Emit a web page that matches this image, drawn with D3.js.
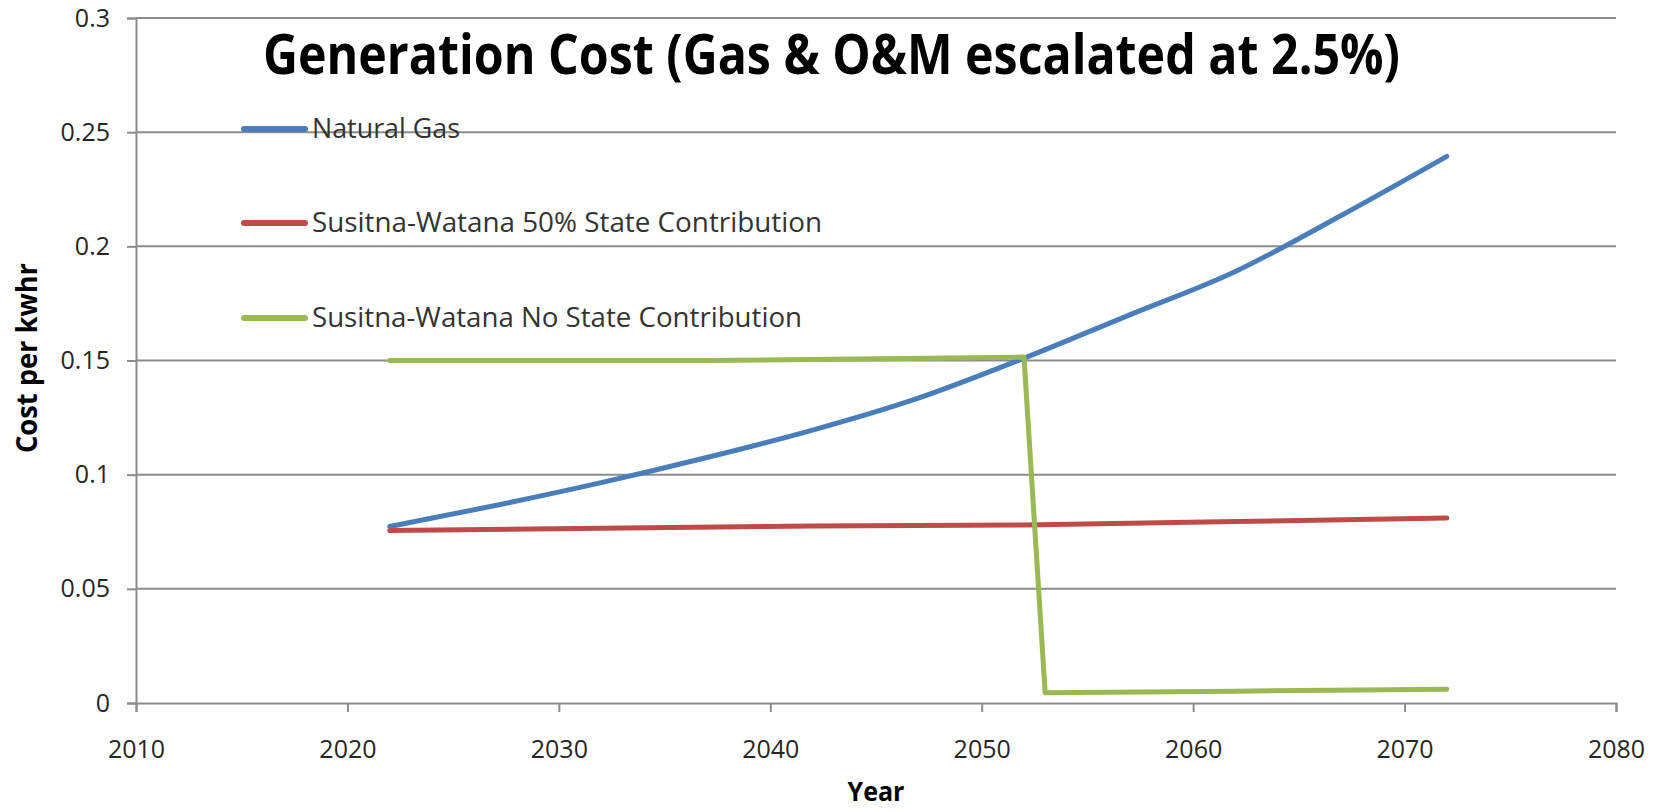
<!DOCTYPE html>
<html>
<head>
<meta charset="utf-8">
<script src="https://cdn.jsdelivr.net/npm/d3@7"></script>
<style>
  body { margin: 0; background: #fff; }
  text { font-family: "Open Sans", "DejaVu Sans", sans-serif; }
</style>
</head>
<body>
<div id="chart"></div>
<script>
let width = 1665;
let height = 811;

// series
let gasYears = [2022, 2027, 2032, 2037, 2042, 2047, 2052, 2057, 2062, 2067, 2072];
let gasCost = [0.0773, 0.0865, 0.0965, 0.1075, 0.1195, 0.1335, 0.151, 0.170, 0.189, 0.2135, 0.2394];

let halfYears = [2022, 2032, 2042, 2052, 2062, 2072];
let halfCost = [0.0755, 0.0765, 0.0775, 0.078, 0.0795, 0.081];

let noneYears = [2022, 2037, 2052, 2053, 2062, 2072];
let noneCost = [0.150, 0.150, 0.1515, 0.0045, 0.0052, 0.006];

let yTicks = [0, 0.05, 0.1, 0.15, 0.2, 0.25, 0.3];
let xTicks = [2010, 2020, 2030, 2040, 2050, 2060, 2070, 2080];

let seriesNames = ['Natural Gas', 'Susitna-Watana 50% State Contribution', 'Susitna-Watana No State Contribution'];
let seriesColors = ['#4a7ebb', '#be4b48', '#98b954'];

let margin = {left: 136, right: 49, top: 18, bottom: 108};

let svg = d3.select('#chart')
    .append('svg')
    .attr('width', width)
    .attr('height', height);

let x = d3.scaleLinear().domain([2010, 2080]).range([margin.left, width - margin.right]);
let y = d3.scaleLinear().domain([0, 0.3]).range([height - margin.bottom, margin.top]);

// gridlines
svg.append('g')
    .selectAll('line')
    .data(yTicks.filter(d => d > 0))
    .enter().append('line')
    .attr('x1', x(2010)).attr('x2', x(2080))
    .attr('y1', d => y(d)).attr('y2', d => y(d))
    .attr('stroke', '#8c8c8c')
    .attr('stroke-width', 2);

// y axis
let yAxis = svg.append('g')
    .attr('transform', 'translate(' + margin.left + ',0)')
    .call(d3.axisLeft(y).tickValues(yTicks).tickSize(9).tickPadding(17).tickFormat(d => String(+d.toFixed(2))));
yAxis.select('.domain').attr('stroke', '#8c8c8c').attr('stroke-width', 2);
yAxis.selectAll('.tick line').attr('stroke', '#8c8c8c').attr('stroke-width', 2);
yAxis.selectAll('.tick text')
    .attr('fill', '#262626')
    .style('font-size', '25px');

// x axis
let xAxis = svg.append('g')
    .attr('transform', 'translate(0,' + y(0) + ')')
    .call(d3.axisBottom(x).tickValues(xTicks).tickSize(9).tickPadding(28).tickFormat(d3.format('d')));
xAxis.select('.domain').attr('stroke', '#8c8c8c').attr('stroke-width', 2);
xAxis.selectAll('.tick line').attr('stroke', '#8c8c8c').attr('stroke-width', 2);
xAxis.selectAll('.tick text')
    .attr('fill', '#262626')
    .style('font-size', '25px');

// lines
let line = d3.line()
    .x(d => x(d[0]))
    .y(d => y(d[1]));

let allSeries = [
    d3.zip(gasYears, gasCost),
    d3.zip(halfYears, halfCost),
    d3.zip(noneYears, noneCost)
];

let lines = svg.append('g');
lines.selectAll('path')
    .data(allSeries)
    .enter().append('path')
    .attr('d', (d, i) => i === 0 ? line.curve(d3.curveMonotoneX)(d) : line.curve(d3.curveLinear)(d))
    .attr('fill', 'none')
    .attr('stroke', (d, i) => seriesColors[i])
    .attr('stroke-width', 5)
    .attr('stroke-linejoin', 'round')
    .attr('stroke-linecap', 'round');

// legend
let legendY = [129, 223, 318];
let legendW = [148, 510, 490];
let legend = svg.selectAll('.legend')
    .data(seriesNames)
    .enter().append('g')
    .attr('class', 'legend')
    .attr('transform', (d, i) => 'translate(244,' + legendY[i] + ')');
legend.append('line')
    .attr('x1', 0).attr('x2', 61)
    .attr('stroke', (d, i) => seriesColors[i])
    .attr('stroke-width', 6)
    .attr('stroke-linecap', 'round');
legend.append('text')
    .attr('x', 68)
    .attr('y', 9)
    .attr('fill', '#333')
    .style('font-size', '27px')
    .attr('textLength', (d, i) => legendW[i])
    .attr('lengthAdjust', 'spacingAndGlyphs')
    .text(d => d);

// title
svg.append('text')
    .attr('x', 263)
    .attr('y', 74)
    .attr('fill', '#000')
    .style('font-size', '55px')
    .style('font-weight', 'bold')
    .attr('textLength', 1137)
    .attr('lengthAdjust', 'spacingAndGlyphs')
    .text('Generation Cost (Gas & O&M escalated at 2.5%)');

// axis titles
svg.append('text')
    .attr('transform', 'translate(37,358) rotate(-90)')
    .attr('text-anchor', 'middle')
    .attr('fill', '#000')
    .style('font-size', '28px')
    .style('font-weight', 'bold')
    .attr('textLength', 190)
    .attr('lengthAdjust', 'spacingAndGlyphs')
    .text('Cost per kwhr');

svg.append('text')
    .attr('x', (x(2010) + x(2080)) / 2)
    .attr('y', 801)
    .attr('text-anchor', 'middle')
    .attr('fill', '#000')
    .style('font-size', '26px')
    .style('font-weight', 'bold')
    .attr('textLength', 57)
    .attr('lengthAdjust', 'spacingAndGlyphs')
    .text('Year');
</script>
</body>
</html>
